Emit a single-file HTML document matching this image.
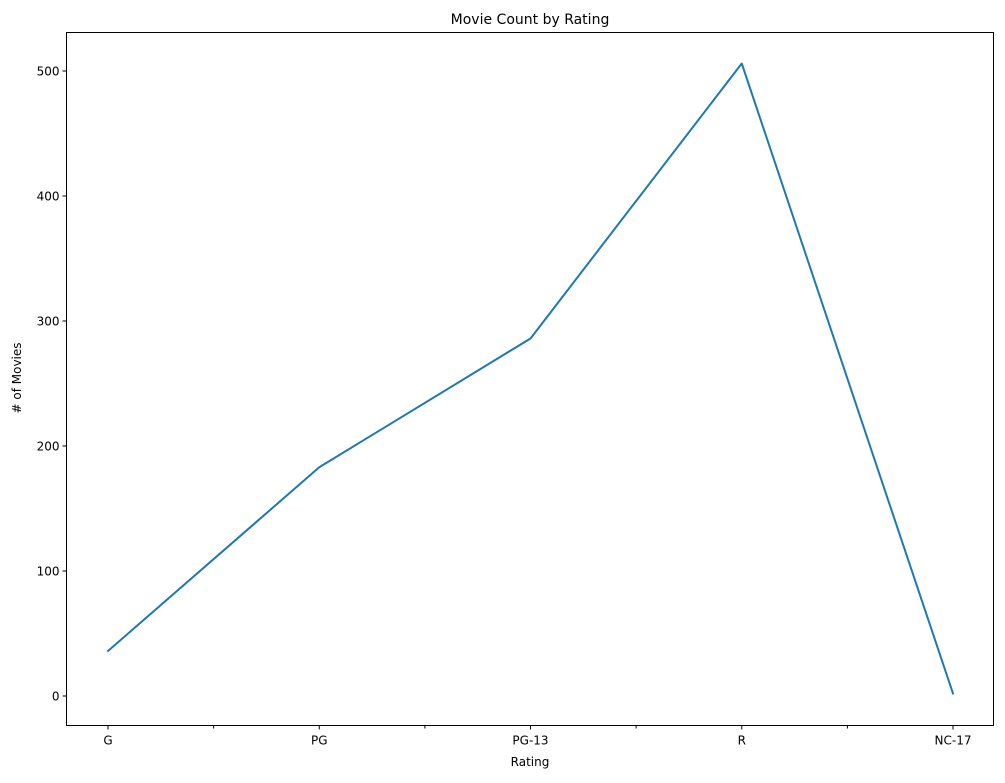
<!DOCTYPE html>
<html><head><meta charset="utf-8"><style>
html,body{margin:0;padding:0;background:#fff;}
svg text{font-family:"DejaVu Sans","Liberation Sans",sans-serif;fill:#000;}
</style></head><body>
<svg id="chart" width="1005" height="778" viewBox="0 0 1005 778">
<text x="530" y="24" font-size="14" text-anchor="middle">Movie Count by Rating</text>
<g id="axes"></g>
<text x="530" y="766" font-size="12" text-anchor="middle">Rating</text>
<text transform="translate(21,378) rotate(-90)" font-size="12" text-anchor="middle"># of Movies</text>
</svg>
<script>
const categories = ["G","PG","PG-13","R","NC-17"];
const counts = [36, 183, 286, 506, 2];
const yTicks = [0,100,200,300,400,500];

const L=66.5,R=993.5,T=32.5,B=725.5;
const svgNS="http://www.w3.org/2000/svg";
const g=document.getElementById('axes');
function xs(i){return 108+i*211.25;}
function ys(v){return 696-v*1.25;}
function el(tag,attrs){const e=document.createElementNS(svgNS,tag);for(const k in attrs)e.setAttribute(k,attrs[k]);g.appendChild(e);return e;}

// ticks
yTicks.forEach(v=>{
  const y=ys(v);
  const t=el('line',{x1:L-4,x2:L,y1:y,y2:y,stroke:'#000','stroke-width':1});
  
  
  const lab=el('text',{x:L-7,y:y+4.5,'font-size':12,'text-anchor':'end'});
  lab.textContent=v;
  
  
});
categories.forEach((c,i)=>{
  const x=xs(i);
  const t=el('line',{x1:x,x2:x,y1:B,y2:B+4,stroke:'#000','stroke-width':1});
  
  
  const lab=el('text',{x:x,y:B+19,'font-size':12,'text-anchor':'middle'});
  lab.textContent=c;
  
  
  if(i<categories.length-1){
    const mx=xs(i+0.5);
    const m=el('line',{x1:mx,x2:mx,y1:B,y2:B+3,stroke:'#000','stroke-width':1});
    
    
  }
});
// line
const pts=counts.map((v,i)=>xs(i)+','+ys(v)).join(' ');
const line=el('polyline',{points:pts,fill:'none',stroke:'#1f77b4','stroke-width':2,'stroke-linejoin':'round','stroke-linecap':'square'});


// frame
const f=el('rect',{x:L,y:T,width:R-L,height:B-T,fill:'none',stroke:'#000','stroke-width':1});


</script>
</body></html>
